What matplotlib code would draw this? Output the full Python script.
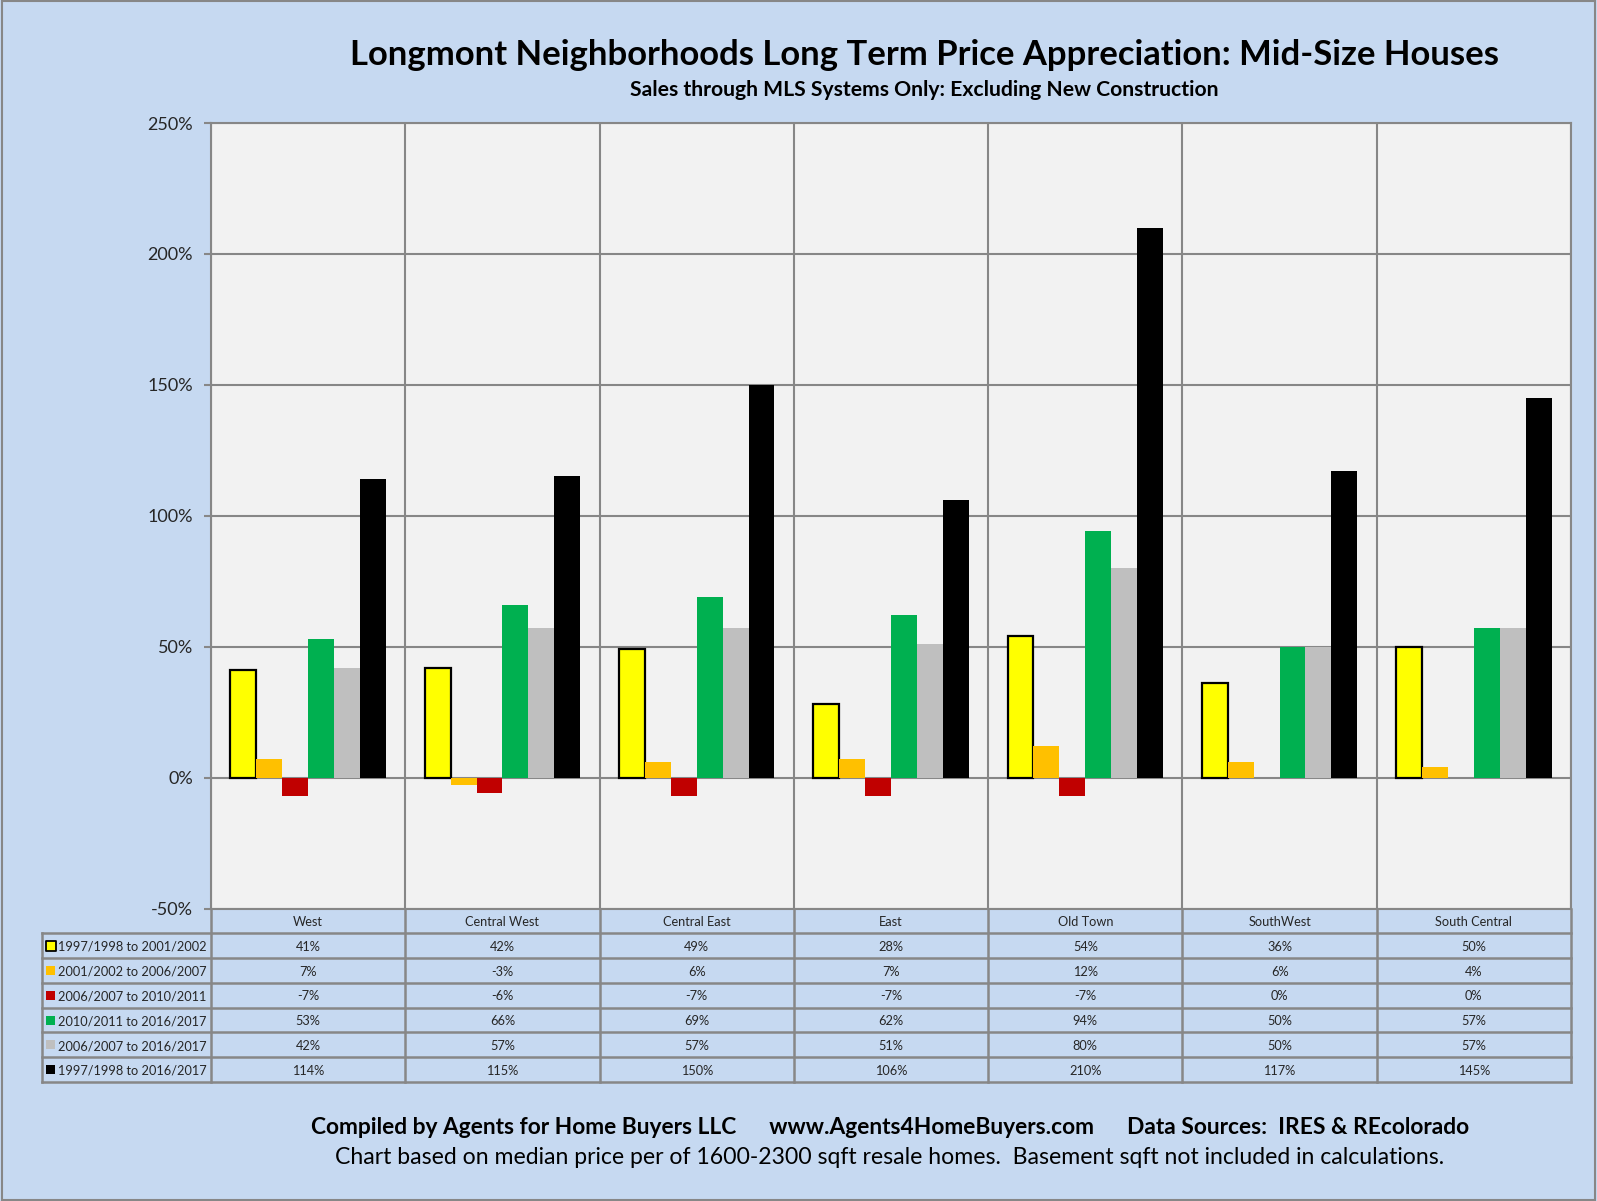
import matplotlib
matplotlib.use("Agg")
import matplotlib.pyplot as plt
import numpy as np
from matplotlib.patches import Rectangle

plt.rcParams['font.family'] = ['Lato', 'DejaVu Sans']

categories = ["West", "Central West", "Central East", "East", "Old Town", "SouthWest", "South Central"]
series_labels = [
    "1997/1998 to 2001/2002",
    "2001/2002 to 2006/2007",
    "2006/2007 to 2010/2011",
    "2010/2011 to 2016/2017",
    "2006/2007 to 2016/2017",
    "1997/1998 to 2016/2017",
]
s1 = [41, 42, 49, 28, 54, 36, 50]
s2 = [7, -3, 6, 7, 12, 6, 4]
s3 = [-7, -6, -7, -7, -7, 0, 0]
s4 = [53, 66, 69, 62, 94, 50, 57]
s5 = [42, 57, 57, 51, 80, 50, 57]
s6 = [114, 115, 150, 106, 210, 117, 145]
series = [s1, s2, s3, s4, s5, s6]
colors = ["#FFFF00", "#FFC000", "#C00000", "#00B050", "#BFBFBF", "#000000"]
yticks = [-50, 0, 50, 100, 150, 200, 250]

W, H = 1597, 1201
BG = "#C6D9F1"
GRID = "#878787"

fig = plt.figure(figsize=(W / 100, H / 100), dpi=100, facecolor=BG)

# plot area in pixels
left_px, right_px, top_px, bottom_px = 211, 1571, 123, 908.5
ax = fig.add_axes([left_px / W, 1 - bottom_px / H, (right_px - left_px) / W, (bottom_px - top_px) / H])
ax.set_facecolor("#F2F2F2")

n = len(categories)
x = np.arange(n)
bw = 0.8 / len(series)
for i, (vals, col) in enumerate(zip(series, colors)):
    offs = (i - (len(series) - 1) / 2) * bw
    ec = "black" if i == 0 else "none"
    lw = 1.6 if i == 0 else 0
    ax.bar(x + offs, vals, width=bw, color=col, edgecolor=ec, linewidth=lw, zorder=3)

ax.set_xlim(-0.5, n - 0.5)
ax.set_ylim(-50, 250)
ax.set_yticks(yticks)
ax.set_yticklabels([f"{t}%" for t in yticks], fontsize=13, color="#262626")
ax.tick_params(axis="y", length=5, width=1.5, color=GRID, pad=8)
ax.set_xticks([])
ax.grid(False)
for t in yticks:
    ax.axhline(t, color=GRID, lw=1.5, zorder=1)
for b in np.arange(-0.5, n, 1.0):
    ax.axvline(b, color=GRID, lw=1.5, zorder=1)
for sp in ax.spines.values():
    sp.set_color(GRID)
    sp.set_linewidth(1.5)

# data table below the plot
tleft_px, tbottom_px = 42, 1082
cat_px = (right_px - left_px) / n
tax = fig.add_axes([tleft_px / W, 1 - tbottom_px / H, (right_px - tleft_px) / W, (tbottom_px - bottom_px) / H])
tax.set_facecolor(BG)
xmin = -0.5 - (left_px - tleft_px) / cat_px
tax.set_xlim(xmin, n - 0.5)
nrows = len(series) + 1
tax.set_ylim(nrows, 0)
tax.axis("off")

for r in range(1, nrows + 1):
    tax.plot([xmin, n - 0.5], [r, r], color=GRID, lw=1.8, clip_on=False)
for b in np.arange(-0.5, n, 1.0):
    tax.plot([b, b], [0, nrows], color=GRID, lw=1.8, clip_on=False)
tax.plot([xmin, xmin], [1, nrows], color=GRID, lw=1.8, clip_on=False)

fs_tab = 9.2
for j, c in enumerate(categories):
    tax.text(j, 0.55, c, ha="center", va="center", fontsize=fs_tab, color="#262626")

for i, (lab, vals, col) in enumerate(zip(series_labels, series, colors)):
    yc = i + 1.55
    tax.scatter([xmin + 0.045], [yc - 0.05], s=42, marker="s", color=col,
                edgecolors="black" if i == 0 else "none", linewidths=1.3 if i == 0 else 0, clip_on=False)
    tax.text(xmin + 0.082, yc, lab, ha="left", va="center", fontsize=fs_tab, color="#262626")
    for j, v in enumerate(vals):
        tax.text(j, yc, f"{v}%", ha="center", va="center", fontsize=fs_tab, color="#262626")

# titles and footer
fig.text(924 / W, 1 - 55 / H, "Longmont Neighborhoods Long Term Price Appreciation: Mid-Size Houses",
         ha="center", va="center", fontsize=24.9, fontweight="bold")
fig.text(924 / W, 1 - 90 / H, "Sales through MLS Systems Only: Excluding New Construction",
         ha="center", va="center", fontsize=15.2, fontweight="bold")
fig.text(890 / W, 1 - 1127 / H,
         "Compiled by Agents for Home Buyers LLC      www.Agents4HomeBuyers.com      Data Sources:  IRES & REcolorado",
         ha="center", va="center", fontsize=16.4, fontweight="bold")
fig.text(890 / W, 1 - 1158 / H,
         "Chart based on median price per of 1600-2300 sqft resale homes.  Basement sqft not included in calculations.",
         ha="center", va="center", fontsize=16.6)

fig.patches.append(Rectangle((0.001, 0.001), 0.998, 0.998, transform=fig.transFigure,
                             fill=False, edgecolor=GRID, lw=1.5))

fig.savefig("out.png", dpi=100, facecolor=BG)
